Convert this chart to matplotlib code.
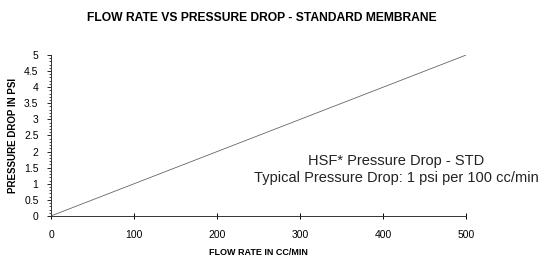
import matplotlib
matplotlib.use("Agg")
import matplotlib.pyplot as plt
from matplotlib.ticker import MultipleLocator

plt.rcParams["font.family"] = ["Liberation Sans", "DejaVu Sans"]

# data
flow_rate = [0, 500]
pressure_drop = [0, 5]
x_ticks = [0, 100, 200, 300, 400, 500]
y_ticks = [0, 0.5, 1, 1.5, 2, 2.5, 3, 3.5, 4, 4.5, 5]

fig = plt.figure(figsize=(5.45, 2.58), dpi=100)
ax = fig.add_axes([0.0936, 0.163, 0.762, 0.624])

ax.plot(flow_rate, pressure_drop, color="#666666", linewidth=0.6)

ax.set_xlim(0, 500)
ax.set_ylim(0, 5)
ax.set_xticks(x_ticks)
ax.set_yticks(y_ticks)
ax.set_yticklabels([f"{v:g}" for v in y_ticks])
ax.yaxis.set_minor_locator(MultipleLocator(0.1))

for s in ["top", "right"]:
    ax.spines[s].set_visible(False)
for s in ["left", "bottom"]:
    ax.spines[s].set_linewidth(0.7)
    ax.spines[s].set_color("#333333")

ax.tick_params(axis="x", direction="inout", length=4, width=0.7, labelsize=7.5, pad=8)
ax.tick_params(axis="y", which="major", direction="out", length=3, width=0.6, labelsize=7.5, pad=6)
ax.tick_params(axis="y", which="minor", direction="out", length=1.5, width=0.5)

ax.set_xlabel("FLOW RATE IN CC/MIN", fontsize=6.5, fontweight="bold", labelpad=6)
ax.set_ylabel("PRESSURE DROP IN PSI", fontsize=7, fontweight="bold", labelpad=4)
fig.suptitle("FLOW RATE VS PRESSURE DROP - STANDARD MEMBRANE",
             fontsize=8.7, fontweight="bold", x=0.48, y=0.955)

ax.text(416, 1.45, "HSF* Pressure Drop - STD\nTypical Pressure Drop: 1 psi per 100 cc/min",
        ha="center", va="center", fontsize=10.5, linespacing=1.3, color="#222222")

fig.savefig("out.png", dpi=100, facecolor="white")
